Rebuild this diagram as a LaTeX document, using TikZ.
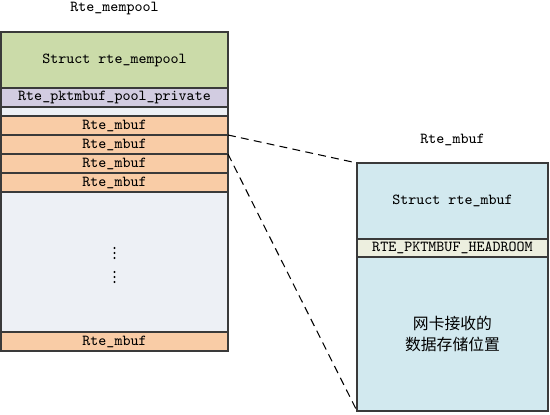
\documentclass[tikz,border=0pt]{standalone}
\usepackage{tikz}
\usepackage{xcolor}
\usepackage{fontspec}
\usetikzlibrary{positioning}
\newfontfamily\cjk{Noto Sans CJK SC}
\definecolor{PoolGreen}{HTML}{CBDBA9}
\definecolor{PrivLilac}{HTML}{D2CCE1}
\definecolor{MbufOrange}{HTML}{F9CCA6}
\definecolor{GapGray}{HTML}{EDF0F5}
\definecolor{DataBlue}{HTML}{D2E9EF}
\definecolor{HeadCream}{HTML}{EDEFDF}
\definecolor{EdgeGray}{HTML}{3A3A3A}

\begin{document}
\begin{tikzpicture}[node distance=0pt,font=\ttfamily\fontsize{8.7}{10}\selectfont,
    cell/.style={draw=EdgeGray,line width=.8pt,outer sep=0pt,inner sep=0pt,minimum width=4.54cm},
    bufcell/.style={draw=EdgeGray,line width=.8pt,outer sep=0pt,inner sep=0pt,minimum width=3.82cm},
    link/.style={dashed,dash pattern=on 4.5pt off 3pt,line width=.6pt}]
      \useasboundingbox (0,0) rectangle (11,-8.28);
      % memory pool
      \node[cell,fill=PoolGreen,minimum height=1.12cm,anchor=north west] (pool) at (0.02,-0.64) {Struct rte\_mempool};
      \node[cell,fill=PrivLilac,minimum height=.38cm,below=of pool] (priv) {Rte\_pktmbuf\_pool\_private};
      \node[cell,fill=GapGray,minimum height=.18cm,below=of priv] (gap) {};
      \node[cell,fill=MbufOrange,minimum height=.38cm,below=of gap] (m1) {Rte\_mbuf};
      \node[cell,fill=MbufOrange,minimum height=.38cm,below=of m1] (m2) {Rte\_mbuf};
      \node[cell,fill=MbufOrange,minimum height=.38cm,below=of m2] (m3) {Rte\_mbuf};
      \node[cell,fill=MbufOrange,minimum height=.38cm,below=of m3] (m4) {Rte\_mbuf};
      \node[cell,fill=GapGray,minimum height=2.8cm,below=of m4] (rest) {};
      \node[cell,fill=MbufOrange,minimum height=.38cm,below=of rest] (mlast) {Rte\_mbuf};
      \node[above=.22cm of pool] (pooltitle) {Rte\_mempool};
      % the dots in the gap
      \foreach \dy in {.28,.18,.08,-.2,-.3,-.4}
        \fill ([yshift=\dy cm]rest.center) circle (.7pt);
      % one mbuf
      \node[bufcell,fill=DataBlue,minimum height=1.52cm,anchor=north west] (hdr) at (7.14,-3.26) {Struct rte\_mbuf};
      \node[bufcell,fill=HeadCream,minimum height=.36cm,below=of hdr] (room) {RTE\_PKTMBUF\_HEADROOM};
      \node[bufcell,fill=DataBlue,minimum height=3.08cm,below=of room,align=center,font=\cjk\fontsize{9}{12}\selectfont] (data) {网卡接收的\\数据存储位置};
      \node[above=.22cm of hdr] (buftitle) {Rte\_mbuf};
      \draw[link] (m1.south east) -- (hdr.north west);
      \draw[link] (m2.south east) -- (data.south west);
    \end{tikzpicture}
\end{document}
